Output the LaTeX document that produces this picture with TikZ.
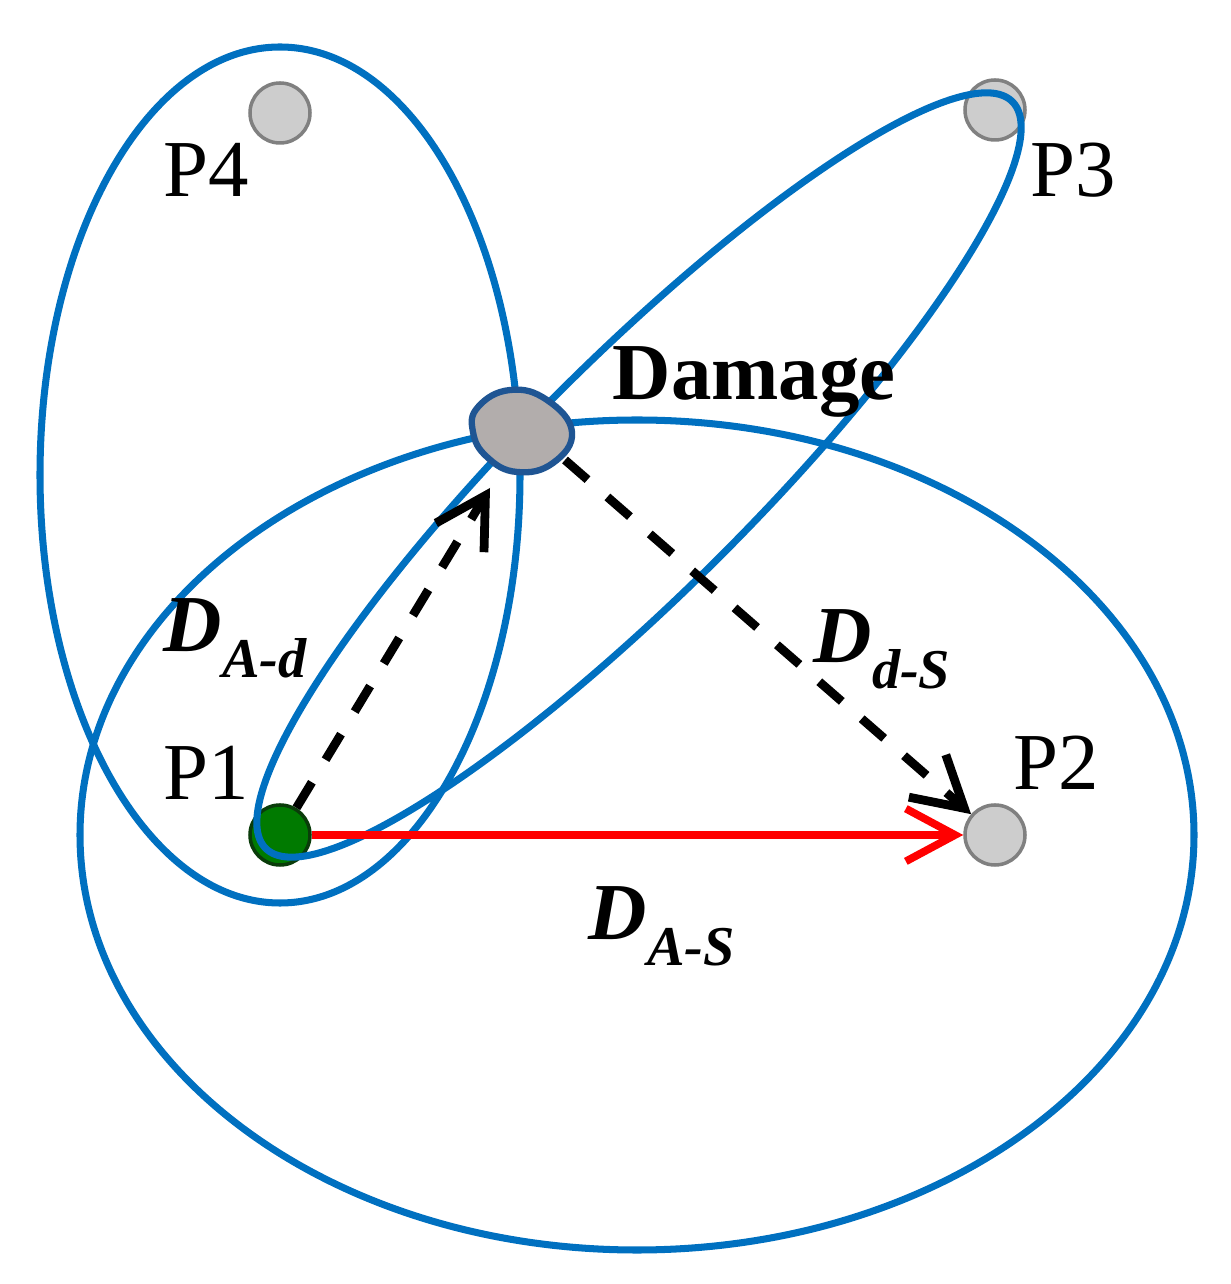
\documentclass[tikz,border=0pt]{standalone}
\usepackage{fontspec}
\setmainfont{Liberation Serif}
\usetikzlibrary{arrows.meta}
\definecolor{zoneblue}{RGB}{0,112,192}
\definecolor{dmgfill}{RGB}{178,173,172}
\definecolor{dmgline}{RGB}{31,85,147}
\definecolor{probegray}{RGB}{205,205,205}
\definecolor{actgreen}{RGB}{0,122,0}
\definecolor{actline}{RGB}{10,60,10}

\begin{document}
\begin{tikzpicture}[
 zone/.style={zoneblue, line width=2pt},
 probe/.style={circle, minimum size=0.6cm, inner sep=0pt, fill=probegray, draw=gray, line width=1pt},
 actuator/.style={circle, minimum size=0.6cm, inner sep=0pt, fill=actgreen, draw=actline, line width=1pt},
 plabel/.style={anchor=base west, inner sep=0pt, font=\fontsize{23pt}{23pt}\selectfont},
 dlabel/.style={anchor=base west, inner sep=0pt, font=\fontsize{23pt}{23pt}\selectfont\bfseries\itshape},
 path/.style={black, line width=2.5pt, dash pattern=on 8.5pt off 7.5pt, -{Straight Barb[length=14pt, width=16pt, line width=2.5pt]}},
 direct/.style={red, line width=2.2pt, -{Straight Barb[length=14pt, width=15pt, line width=2.2pt]}}
]
 \useasboundingbox (0,0) rectangle (12.31,12.84);
 % sensors
 \node[actuator] (p1) at (2.80,4.49) {};
 \node[probe] (p2) at (9.95,4.49) {};
 \node[probe] (p3) at (9.95,11.74) {};
 \node[probe] (p4) at (2.80,11.71) {};
 % ellipses of the paths
 \draw[zone] (2.80,8.09) ellipse [x radius=2.40, y radius=4.28];
 \draw[zone] (6.37,4.49) ellipse [x radius=5.57, y radius=4.15];
 \draw[zone, rotate around={45:(6.39,8.09)}] (6.39,8.09) ellipse [x radius=5.28, y radius=1.15];
 % damage
 \draw[fill=dmgfill, draw=dmgline, line width=1.8pt] plot[smooth cycle, tension=0.75] coordinates
  {(4.78,8.77) (5.10,8.94) (5.47,8.84) (5.72,8.52) (5.53,8.21) (5.17,8.12) (4.87,8.27) (4.73,8.52)};
 \coordinate (dmg) at (5.20,8.50);
 \coordinate (dmgin) at (4.90,7.96);
 \coordinate (dmgout) at (5.65,8.24);
 % paths
 \draw[direct] (p1) -- (p2);
 \draw[path] (p1) -- (dmgin);
 \draw[path] (dmgout) -- (p2);
 % labels
 \node[plabel] (l1) at (1.63,4.84) {P1};
 \node[plabel] (l2) at (10.13,4.94) {P2};
 \node[plabel] (l3) at (10.30,10.87) {P3};
 \node[plabel] (l4) at (1.63,10.87) {P4};
 \node[plabel, font=\fontsize{23pt}{23pt}\selectfont\bfseries] (ldmg) at (6.12,8.84) {Damage};
 \node[dlabel] (lad) at (1.63,6.32) {D\raisebox{-0.31em}{\fontsize{16pt}{16pt}\selectfont A-d}};
 \node[dlabel] (lds) at (8.13,6.21) {D\raisebox{-0.31em}{\fontsize{16pt}{16pt}\selectfont d-S}};
 \node[dlabel] (las) at (5.88,3.44) {D\raisebox{-0.31em}{\fontsize{16pt}{16pt}\selectfont A-S}};
\end{tikzpicture}
\end{document}
